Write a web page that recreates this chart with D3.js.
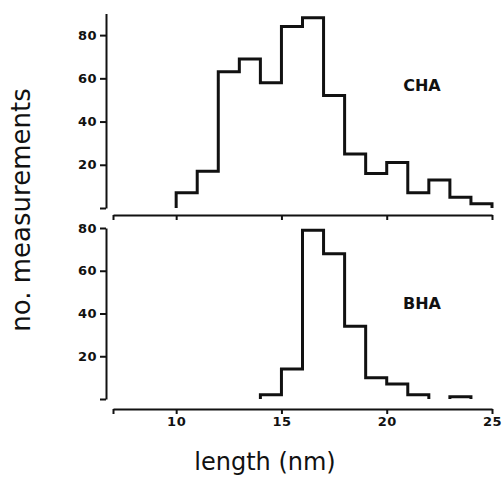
<!DOCTYPE html>
<html>
<head>
<meta charset="utf-8">
<script src="https://cdn.jsdelivr.net/npm/d3@7"></script>
<style>
    body { margin: 0; background: #fff; }
    .tick text { font-family: 'DejaVu Sans', sans-serif; font-weight: bold; font-size: 13px; letter-spacing: 0.5px; fill: #111; }
    .domain, .tick line { stroke: #111; stroke-width: 2px; }
    .hist { fill: none; stroke: #111; stroke-width: 3px; stroke-linejoin: miter; }
    .panel-label { font-family: 'DejaVu Sans', sans-serif; font-weight: bold; font-size: 16px; fill: #111; }
    .title { font-family: 'DejaVu Sans', sans-serif; fill: #111; }
</style>
</head>
<body>
<svg id="chart" width="502" height="481"></svg>
<script>
// Data //
const chaStart = 10
const chaCounts = [7, 17, 63, 69, 58, 84, 88, 52, 25, 16, 21, 7, 13, 5, 2]
const bhaStart = 14
const bhaCounts = [2, 14, 79, 68, 34, 10, 7, 2, 0, 1, 0]
const xTicks = [7, 10, 15, 20, 25]
const yTicks = [0, 20, 40, 60, 80]

const svg = d3.select('#chart')

// Scales //
const x = d3.scaleLinear().domain([7, 25]).range([113, 492])
const yTop = d3.scaleLinear().domain([0, 90]).range([208, 13.5])
const yBottom = d3.scaleLinear().domain([0, 80]).range([399, 228])

// Histogram runs: each run of non-zero bins becomes one stepped outline
const getRuns = (start, counts) => {
    const runs = []
    let current = null
    counts.forEach((v, i) => {
        const edge = start + i
        if (v > 0) {
            if (!current) {
                current = [[edge, 0]]
                runs.push(current)
            }
            current.push([edge, v], [edge + 1, v])
        } else if (current) {
            current.push([edge, 0])
            current = null
        }
    })
    if (current) current.push([start + counts.length, 0])
    return runs
}

const drawHist = (start, counts, y) => {
    const line = d3.line().x(d => x(d[0])).y(d => y(d[1]))
    svg.append('g').selectAll('path')
        .data(getRuns(start, counts))
        .enter()
        .append('path')
            .attr('class', 'hist')
            .attr('d', line)
}

const drawYAxis = (y) => {
    svg.append('g')
        .attr('transform', 'translate(106,0)')
        .call(d3.axisLeft(y)
            .tickValues(yTicks)
            .tickSize(6)
            .tickSizeOuter(0)
            .tickPadding(3)
            .tickFormat(d => d === 0 ? '' : d))
}

const drawXAxis = (yPos, withLabels) => {
    svg.append('g')
        .attr('transform', `translate(0,${yPos})`)
        .call(d3.axisBottom(x)
            .tickValues(xTicks)
            .tickSize(5)
            .tickSizeOuter(0)
            .tickPadding(3)
            .tickFormat(d => (withLabels && d !== 7) ? d : ''))
}

// Drawers //
drawYAxis(yTop)
drawYAxis(yBottom)
drawXAxis(215, false)
drawXAxis(409, true)
drawHist(chaStart, chaCounts, yTop)
drawHist(bhaStart, bhaCounts, yBottom)

svg.append('text')
    .attr('class', 'panel-label')
    .attr('x', 422)
    .attr('y', 91)
    .attr('text-anchor', 'middle')
    .text('CHA')

svg.append('text')
    .attr('class', 'panel-label')
    .attr('x', 422)
    .attr('y', 309)
    .attr('text-anchor', 'middle')
    .text('BHA')

svg.append('text')
    .attr('class', 'title')
    .attr('transform', 'translate(30,210) rotate(-90)')
    .attr('text-anchor', 'middle')
    .attr('font-size', 26)
    .text('no. measurements')

svg.append('text')
    .attr('class', 'title')
    .attr('x', 265)
    .attr('y', 470)
    .attr('text-anchor', 'middle')
    .attr('font-size', 24)
    .text('length (nm)')
</script>
</body>
</html>
